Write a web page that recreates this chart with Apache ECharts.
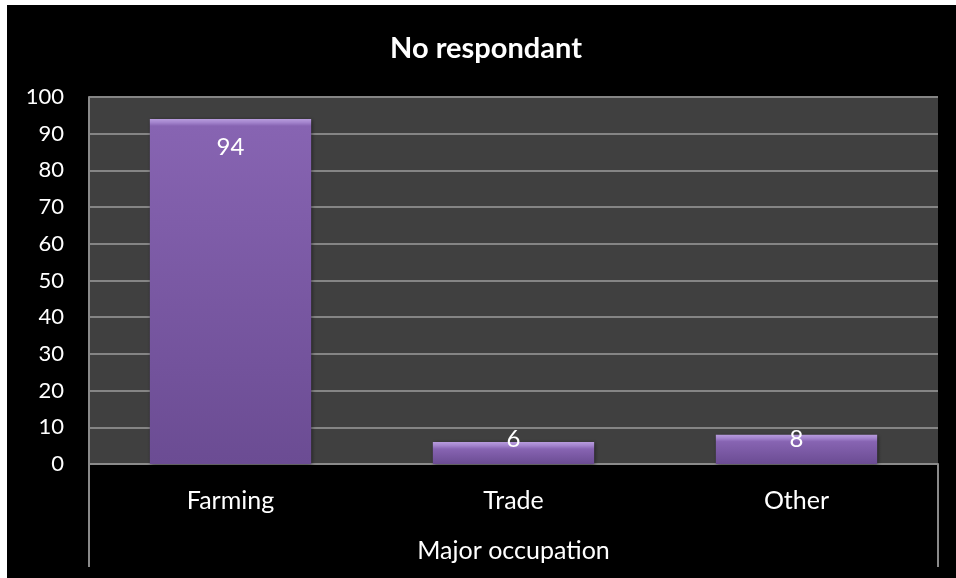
<!DOCTYPE html>
<html>
<head>
<meta charset="utf-8">
<script src="https://cdn.jsdelivr.net/npm/echarts@6/dist/echarts.min.js"></script>
<style>
  html, body { margin: 0; padding: 0; background: #ffffff; }
  #frame { position: absolute; left: 7px; top: 5px; width: 949px; height: 573px; background: #000000; }
  #chart { width: 949px; height: 573px; }
</style>
</head>
<body>
<div id="frame"><div id="chart"></div></div>
<script>
// Respondent counts by major occupation
const categories = ['Farming', 'Trade', 'Other'];
const respondents = [94, 6, 8];
const yTicks = [0, 10, 20, 30, 40, 50, 60, 70, 80, 90, 100];

const FONT = 'Lato, "Liberation Sans", sans-serif';
const GRID = { left: 82, right: 18, top: 92, bottom: 114 };
const W = 949, H = 573;
const plotH = H - GRID.top - GRID.bottom;
const yMax = yTicks[yTicks.length - 1];

// Bevel-like face: a bright strip along the top, then a darker vertical fade.
function barFace(value) {
  const px = value / yMax * plotH;
  const edge = Math.min(0.45, 7 / px);
  return {
    type: 'linear', x: 0, y: 0, x2: 0, y2: 1,
    colorStops: [
      { offset: 0, color: '#b89cdd' },
      { offset: edge * 0.5, color: '#a384cd' },
      { offset: edge, color: '#8764b2' },
      { offset: 1, color: '#6b4c93' }
    ]
  };
}

const seriesData = respondents.map(function (v) {
  const tall = v > 20;
  return {
    value: v,
    itemStyle: { color: barFace(v) },
    label: tall
      ? { position: 'insideTop', distance: 16 }
      : { position: 'insideBottom', distance: 13 }
  };
});

const chart = echarts.init(document.getElementById('chart'), null, { renderer: 'canvas' });
chart.setOption({
  backgroundColor: '#000000',
  animation: false,
  title: {
    text: 'No respondant',
    left: 474, top: 24, textAlign: 'center',
    textStyle: { color: '#ffffff', fontFamily: FONT, fontWeight: 'bold', fontSize: 29 }
  },
  grid: {
    left: GRID.left, right: GRID.right, top: GRID.top, bottom: GRID.bottom,
    show: true, backgroundColor: '#404040', borderWidth: 0
  },
  xAxis: {
    type: 'category',
    data: categories,
    name: 'Major occupation',
    nameLocation: 'middle',
    nameGap: 74,
    nameTextStyle: { color: '#ffffff', fontFamily: FONT, fontSize: 25 },
    axisLine: { show: true, lineStyle: { color: '#8a8a8a', width: 2 } },
    axisTick: { show: false },
    axisLabel: { color: '#ffffff', fontFamily: FONT, fontSize: 25, margin: 24 }
  },
  yAxis: {
    type: 'value',
    min: yTicks[0], max: yMax, interval: yTicks[1] - yTicks[0],
    axisLine: { show: true, lineStyle: { color: '#8a8a8a', width: 2 } },
    axisTick: { show: false },
    axisLabel: { color: '#ffffff', fontFamily: FONT, fontSize: 22, margin: 25 },
    splitLine: { show: true, lineStyle: { color: '#858585', width: 2 } }
  },
  graphic: [
    // frame lines framing the category block below the plot
    { type: 'line', shape: { x1: GRID.left, y1: H - GRID.bottom, x2: GRID.left, y2: H - 11 },
      style: { stroke: '#8a8a8a', lineWidth: 2 } },
    { type: 'line', shape: { x1: W - GRID.right, y1: H - GRID.bottom, x2: W - GRID.right, y2: H - 11 },
      style: { stroke: '#8a8a8a', lineWidth: 2 } }
  ],
  series: [{
    type: 'bar',
    data: seriesData,
    barWidth: '57%',
    itemStyle: { shadowColor: 'rgba(0,0,0,0.5)', shadowBlur: 4, shadowOffsetX: 1, shadowOffsetY: 1 },
    label: {
      show: true,
      color: '#ffffff',
      fontFamily: FONT,
      fontSize: 24
    }
  }]
});
</script>
</body>
</html>
